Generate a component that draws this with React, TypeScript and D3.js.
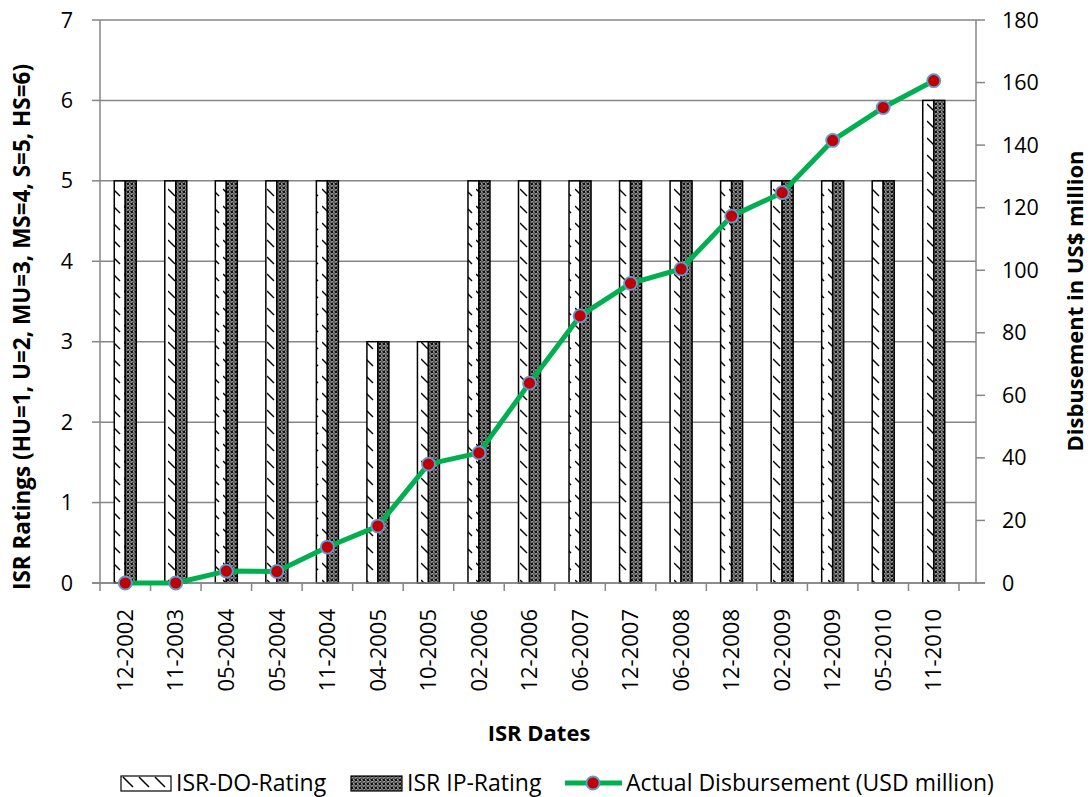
import React from "react";
import * as d3 from "d3";

const categories = ["12-2002","11-2003","05-2004","05-2004","11-2004","04-2005","10-2005","02-2006","12-2006","06-2007","12-2007","06-2008","12-2008","02-2009","12-2009","05-2010","11-2010"];
const doRating = [5,5,5,5,5,3,3,5,5,5,5,5,5,5,5,5,6];
const ipRating = [5,5,5,5,5,3,3,5,5,5,5,5,5,5,5,5,6];
const disbursement = [0,0,3.8,3.7,11.5,18.2,38,41.6,63.9,85.4,95.8,100.4,117.3,124.8,141.5,152,160.6];
const leftTicks = [0,1,2,3,4,5,6,7];
const rightTicks = [0,20,40,60,80,100,120,140,160,180];

const W = 1091, H = 797;
const FONT = "'Open Sans', sans-serif";

export default function App() {
  const x0 = 100, xBandEnd = 959, xPlotEnd = 976;
  const yTop = 20, yBot = 583;
  const x = d3.scaleBand<string>().domain(categories.map((_, i) => String(i))).range([x0, xBandEnd]).paddingInner(0).paddingOuter(0);
  const yL = d3.scaleLinear().domain([0, 7]).range([yBot, yTop]);
  const yR = d3.scaleLinear().domain([0, 180]).range([yBot, yTop]);
  const barW = 11;
  const line = d3.line<number>().x((_, i) => x(String(i))! + x.bandwidth() / 2).y(d => yR(d));
  const grid = "#868686";
  const tickFs = 21.5;
  return (
    <svg width={W} height={H} style={{ position: "absolute", left: 0, top: 0, background: "#fff" }}>
      <defs>
        <pattern id="doPat" patternUnits="userSpaceOnUse" width="11" height="17" x="3" y="0">
          <rect width="11" height="17" fill="#fff" />
          <path d="M0,2 L7,9" stroke="#000" strokeWidth="1.5" />
        </pattern>
        <pattern id="doPatL" patternUnits="userSpaceOnUse" width="16" height="16" x="121" y="776">
          <rect width="16" height="16" fill="#fff" />
          <path d="M2,1 L12,11" stroke="#000" strokeWidth="1.5" />
        </pattern>
        <pattern id="ipPat" patternUnits="userSpaceOnUse" width="4" height="4">
          <rect width="4" height="4" fill="#111" />
          <path d="M2,0.4 L3.6,2 L2,3.6 L0.4,2 Z" fill="none" stroke="#fff" strokeWidth="0.8" />
        </pattern>
      </defs>
      <rect width={W} height={H} fill="#fff" />
      {/* gridlines */}
      {leftTicks.map(t => (
        <line key={"g" + t} x1={x0} x2={xPlotEnd} y1={yL(t)} y2={yL(t)} stroke={grid} strokeWidth={1.5} />
      ))}
      {/* bars */}
      {categories.map((c, i) => {
        const cx = x(String(i))! + x.bandwidth() / 2;
        return (
          <g key={"b" + i}>
            <rect x={cx - barW} y={yL(doRating[i])} width={barW} height={yBot - yL(doRating[i])} fill="url(#doPat)" stroke="#000" strokeWidth={1.5} />
            <rect x={cx} y={yL(ipRating[i])} width={barW} height={yBot - yL(ipRating[i])} fill="url(#ipPat)" stroke="#000" strokeWidth={1.5} />
          </g>
        );
      })}
      {/* axes */}
      <line x1={x0} x2={x0} y1={yTop} y2={yBot} stroke={grid} strokeWidth={1.5} />
      <line x1={xPlotEnd} x2={xPlotEnd} y1={yTop} y2={yBot} stroke={grid} strokeWidth={1.5} />
      <line x1={x0 - 8} x2={xPlotEnd + 9} y1={yBot} y2={yBot} stroke={grid} strokeWidth={1.5} />
      {leftTicks.map(t => (
        <g key={"lt" + t}>
          <line x1={x0 - 8} x2={x0} y1={yL(t)} y2={yL(t)} stroke={grid} strokeWidth={1.5} />
          <text x={73} y={yL(t)} dy="0.35em" textAnchor="end" fontFamily={FONT} fontSize={tickFs} fill="#000">{t}</text>
        </g>
      ))}
      {rightTicks.map(t => (
        <g key={"rt" + t}>
          <line x1={xPlotEnd} x2={xPlotEnd + 9} y1={yR(t)} y2={yR(t)} stroke={grid} strokeWidth={1.5} />
          <text x={1002} y={yR(t)} dy="0.35em" textAnchor="start" fontFamily={FONT} fontSize={tickFs} fill="#000">{t}</text>
        </g>
      ))}
      {d3.range(categories.length + 1).map(i => {
        const xx = x0 + i * x.bandwidth();
        return <line key={"xt" + i} x1={xx} x2={xx} y1={yBot} y2={yBot + 8} stroke={grid} strokeWidth={1.5} />;
      })}
      {categories.map((c, i) => {
        const cx = x(String(i))! + x.bandwidth() / 2;
        return (
          <text key={"xl" + i} transform={`translate(${cx},${609}) rotate(-90)`} dy="0.35em" textAnchor="end" fontFamily={FONT} fontSize={22} fill="#000">{c}</text>
        );
      })}
      {/* line */}
      <path d={line(disbursement) || ""} fill="none" stroke="#00B050" strokeWidth={5} strokeLinejoin="round" />
      {disbursement.map((d, i) => (
        <circle key={"p" + i} cx={x(String(i))! + x.bandwidth() / 2} cy={yR(d)} r={6.5} fill="#C00000" stroke="#5B9BD5" strokeWidth={1.8} />
      ))}
      {/* titles */}
      <text x={539} y={733} dy="0.35em" textAnchor="middle" fontFamily={FONT} fontWeight="bold" fontSize={22} fill="#000">ISR Dates</text>
      <text transform={`translate(22,327) rotate(-90)`} dy="0.35em" textAnchor="middle" fontFamily={FONT} fontWeight="bold" fontSize={22.5} fill="#000">ISR Ratings (HU=1, U=2, MU=3, MS=4, S=5, HS=6)</text>
      <text transform={`translate(1075,301) rotate(-90)`} dy="0.35em" textAnchor="middle" fontFamily={FONT} fontWeight="bold" fontSize={22} fill="#000">Disbusement in US$ million</text>
      {/* legend */}
      <g>
        <rect x={121} y={776} width={50} height={15} fill="url(#doPatL)" stroke="#000" strokeWidth={1.2} />
        <text x={176} y={783} dy="0.35em" fontFamily={FONT} fontSize={23} fill="#000">ISR-DO-Rating</text>
        <rect x={351} y={776} width={51} height={15} fill="url(#ipPat)" stroke="#000" strokeWidth={1.2} />
        <text x={407} y={783} dy="0.35em" fontFamily={FONT} fontSize={23} fill="#000">ISR IP-Rating</text>
        <line x1={565} x2={622} y1={783} y2={783} stroke="#00B050" strokeWidth={5} />
        <circle cx={593} cy={783} r={6.5} fill="#C00000" stroke="#5B9BD5" strokeWidth={1.8} />
        <text x={626} y={783} dy="0.35em" fontFamily={FONT} fontSize={23} fill="#000">Actual Disbursement (USD million)</text>
      </g>
    </svg>
  );
}
